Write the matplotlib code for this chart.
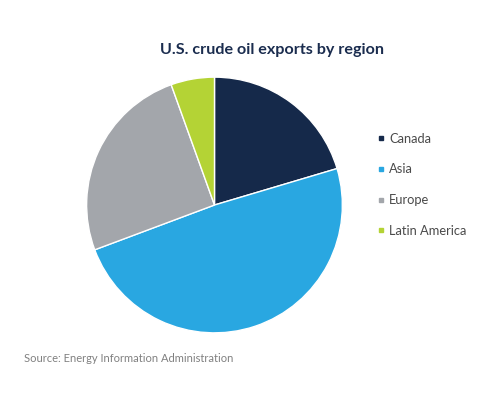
import matplotlib
matplotlib.use("Agg")
import matplotlib.pyplot as plt
from matplotlib.lines import Line2D

regions = ["Canada", "Asia", "Europe", "Latin America"]
shares = [20.4, 48.9, 25.2, 5.5]
colors = ["#15294a", "#29a7e1", "#a3a6ab", "#b4d335"]

W, H = 491, 393
fig = plt.figure(figsize=(W / 100, H / 100), dpi=100)
fig.patch.set_facecolor("white")

cx, cy, r = 214.5, 205, 128.5
ax = fig.add_axes([(cx - r) / W, (H - cy - r) / H, 2 * r / W, 2 * r / H])
wedges, _ = ax.pie(shares, colors=colors, startangle=90, counterclock=False,
                   wedgeprops=dict(edgecolor="white", linewidth=1.0))
ax.set_xlim(-1.005, 1.005)
ax.set_ylim(-1.005, 1.005)
ax.set_aspect("equal")
ax.axis("off")

fig.text(272 / W, 1 - 50 / H, "U.S. crude oil exports by region",
         ha="center", va="center", fontsize=11.6, fontweight="bold",
         color="#1b2d4f", family=["Lato", "DejaVu Sans"])

handles = [Line2D([], [], marker="s", linestyle="none", markersize=3.5,
                  markerfacecolor=c, markeredgecolor=c) for c in colors]
leg = fig.legend(handles, regions, loc="upper left",
                 bbox_to_anchor=(365 / W, 1 - 121 / H), frameon=False,
                 handlelength=0.6, handletextpad=0.35, labelspacing=1.45,
                 prop=dict(family=["Lato", "DejaVu Sans"], size=9.3))
for t in leg.get_texts():
    t.set_color("#4a4a4a")

fig.text(24 / W, 1 - 358 / H, "Source: Energy Information Administration",
         ha="left", va="center", fontsize=8.0, color="#808080",
         family=["Lato", "DejaVu Sans"])

fig.savefig("out.png", dpi=100, facecolor="white")
